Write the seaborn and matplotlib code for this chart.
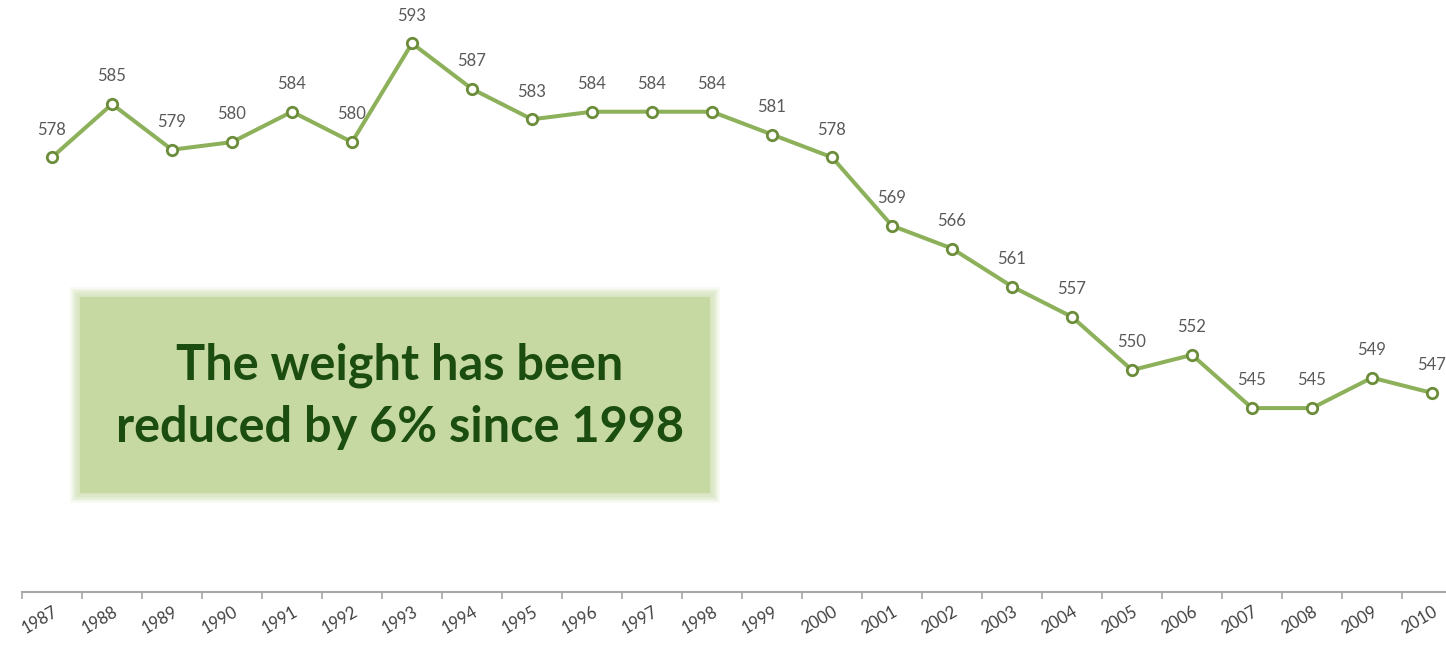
import numpy as np
import matplotlib
matplotlib.use("Agg")
import matplotlib.pyplot as plt
import seaborn as sns
from matplotlib.patches import Rectangle

years = [1987, 1988, 1989, 1990, 1991, 1992, 1993, 1994, 1995, 1996, 1997, 1998,
         1999, 2000, 2001, 2002, 2003, 2004, 2005, 2006, 2007, 2008, 2009, 2010]
weights = [578, 585, 579, 580, 584, 580, 593, 587, 583, 584, 584, 584,
           581, 578, 569, 566, 561, 557, 550, 552, 545, 545, 549, 547]
tick_labels = [str(y) for y in years]
note_text = "The weight has been\nreduced by 6% since 1998"

sns.set_theme(style="white")
plt.rcParams['font.family'] = ['Lato', 'DejaVu Sans']

fig = plt.figure(figsize=(14.46, 6.47), dpi=100)
ax = fig.add_axes([22/1446, 55/647, 1424/1446, 592/647])

line_color = "#8db15a"
edge_color = "#6b8d3a"
sns.lineplot(x=years, y=weights, ax=ax, color=line_color, linewidth=2.9,
             marker="o", markersize=7.5, markerfacecolor="white",
             markeredgecolor=edge_color, markeredgewidth=2.0, zorder=3)

for x, y in zip(years, weights):
    ax.annotate(str(y), (x, y), xytext=(0, 20), textcoords="offset points",
                ha="center", va="center", fontsize=12, color="#595959")

ax.set_xlim(1986.5, 1986.5 + 1424/60)
ax.set_ylim(520.8, 598.7)

for s in ["left", "right", "top"]:
    ax.spines[s].set_visible(False)
ax.spines["bottom"].set_color("#a6a6a6")
ax.spines["bottom"].set_linewidth(1.5)

ax.set_yticks([])
ax.set_xticks(years)
ax.set_xticklabels(tick_labels, rotation=30, ha="right", rotation_mode="anchor",
                   fontsize=12, color="#404040")
ax.tick_params(axis="x", which="major", length=0, pad=8)
ax.set_xticks([y - 0.5 for y in years], minor=True)
ax.tick_params(axis="x", which="minor", bottom=True, length=5, width=1.2, color="#a6a6a6")
ax.set_xlabel("")
ax.set_ylabel("")

# soft-edged green box
x0, x1 = 80/1446, 710/1446
y0, y1 = 154/647, 350/647
for i in range(8, 0, -1):
    dx = i * 1.2 / 1446
    dy = i * 1.2 / 647
    fig.patches.append(Rectangle((x0 - dx, y0 - dy), (x1 - x0) + 2*dx, (y1 - y0) + 2*dy,
                                 transform=fig.transFigure, facecolor="#c5d9a0",
                                 edgecolor="none", alpha=0.12, zorder=0))
fig.patches.append(Rectangle((x0, y0), x1 - x0, y1 - y0, transform=fig.transFigure,
                             facecolor="#c6d9a2", edgecolor="none", zorder=0))
fig.text(400/1446, 251/647, note_text, ha="center", va="center", fontsize=35,
         fontweight="bold", color="#1b4d10", linespacing=1.45)

fig.savefig("out.png", dpi=100)
